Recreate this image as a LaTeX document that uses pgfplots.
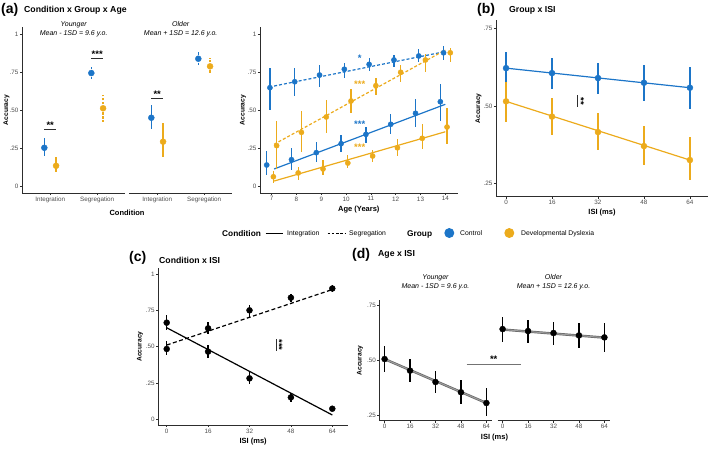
\documentclass[border=0pt]{standalone}
\usepackage{pgfplots}
\pgfplotsset{compat=1.18}
\usepackage{fontspec}
\setmainfont{Liberation Sans}

\definecolor{ctrl}{RGB}{28,117,200}
\definecolor{dys}{RGB}{236,171,28}
\definecolor{axgray}{RGB}{45,45,45}
\definecolor{ticktext}{RGB}{77,77,77}

\newcommand\tickfont{\fontsize{6.3}{7}\selectfont}
\newcommand\axlabfont{\bfseries\fontsize{7.5}{9}\selectfont}
\newcommand\ylabfont{\bfseries\fontsize{6.7}{8}\selectfont}
\newcommand\titlefont{\bfseries\fontsize{8.7}{10}\selectfont}
\newcommand\tagfont{\bfseries\fontsize{14}{16}\selectfont}
\newcommand\facetfont{\itshape\fontsize{7}{9}\selectfont}
\newcommand\starfont{\bfseries\fontsize{9.5}{10}\selectfont}
\newcommand\legfont{\fontsize{6.8}{8}\selectfont}

\pgfplotsset{
  gg/.style={
    scale only axis, clip=false,
    axis lines*=left,
    axis line style={axgray, line width=0.6pt, -},
    tick style={axgray, line width=0.5pt},
    tick align=outside, major tick length=2.2pt,
    ticklabel style={font=\tickfont, text=ticktext, inner sep=1.2pt},
    /pgf/number format/assume math mode=true,
    xlabel style={font=\axlabfont},
    ylabel style={font=\ylabfont},
  },
  % y label centred at a given fraction of the axis width left of the axis
  ylab/.style={ylabel={Accuracy},
    ylabel style={at={(axis description cs:#1,0.5)}, anchor=center}},
  acc/.style={ytick={0,0.25,0.5,0.75,1}, yticklabels={0,.25,.50,.75,1}},
  acc2/.style={ytick={0.25,0.5,0.75}, yticklabels={.25,.50,.75}},
  isi/.style={xtick={0,16,32,48,64}},
  pts/.style={only marks, mark=*, mark size=#1, mark options={solid, draw=none},
    error bars/y dir=both, error bars/y explicit, error bars/error mark=none},
  bar/.style={error bars/error bar style={line width=#1, solid}},
  dbar/.style={error bars/error bar style={line width=#1, dash pattern=on 2.4pt off 1.6pt}},
  fit/.style={line width=1.2pt, no marks},
  dfit/.style={line width=1.2pt, no marks, dash pattern=on 3pt off 2pt},
  table/eb/.style={x=x, y=y,
    y error plus expr=\thisrow{hi}-\thisrow{y},
    y error minus expr=\thisrow{y}-\thisrow{lo}},
}

\begin{document}
\begin{tikzpicture}
\path[use as bounding box] (0pt,0pt) rectangle (709pt,-448pt);

% ---------------- panel (a): condition x group x age ----------------
\node[anchor=west, inner sep=0] at (1pt,-10pt) {\tagfont (a)};
\node[anchor=west, inner sep=0] at (24pt,-10pt) {\titlefont Condition x Group x Age};

% younger facet
\begin{axis}[gg, acc, ylab=-0.15, at={(22pt,-193pt)}, anchor=south west,
  width=103.4pt, height=166pt,
  xmin=0.4, xmax=2.6, ymin=-0.0426, ymax=1.046,
  xtick={1,2}, xticklabels={Integration,Segregation}]
\addplot[ctrl, pts=3pt, bar=1.6pt] table[eb] {
x y hi lo
0.875 0.254 0.318 0.200
};
\addplot[dys, pts=3pt, bar=1.6pt] table[eb] {
x y hi lo
1.125 0.136 0.193 0.095
};
\addplot[ctrl, pts=3pt, dbar=1.6pt] table[eb] {
x y hi lo
1.875 0.744 0.790 0.698
};
\addplot[dys, pts=3pt, dbar=1.6pt] table[eb] {
x y hi lo
2.125 0.513 0.600 0.425
};
\draw[axgray, line width=0.6pt] (axis cs:0.875,0.377) -- (axis cs:1.125,0.377);
\node[font=\starfont, anchor=base, inner sep=0] at (axis cs:1,0.383) {**};
\draw[axgray, line width=0.6pt] (axis cs:1.875,0.842) -- (axis cs:2.125,0.842);
\node[font=\starfont, anchor=base, inner sep=0] at (axis cs:2,0.848) {***};
\end{axis}
\node[font=\facetfont, align=center] at (73.7pt,-29.5pt) {Younger\\Mean - 1SD = 9.6 y.o.};

% older facet
\begin{axis}[gg, at={(129pt,-193pt)}, anchor=south west,
  width=103.4pt, height=166pt,
  axis y line=none, ytick=\empty,
  xmin=0.4, xmax=2.6, ymin=-0.0426, ymax=1.046,
  xtick={1,2}, xticklabels={Integration,Segregation}]
\addplot[ctrl, pts=3pt, bar=1.6pt] table[eb] {
x y hi lo
0.875 0.451 0.534 0.377
};
\addplot[dys, pts=3pt, bar=1.6pt] table[eb] {
x y hi lo
1.125 0.294 0.415 0.195
};
\addplot[ctrl, pts=3pt, dbar=1.6pt] table[eb] {
x y hi lo
1.875 0.838 0.882 0.786
};
\addplot[dys, pts=3pt, dbar=1.6pt] table[eb] {
x y hi lo
2.125 0.788 0.843 0.744
};
\draw[axgray, line width=0.6pt] (axis cs:0.875,0.578) -- (axis cs:1.125,0.578);
\node[font=\starfont, anchor=base, inner sep=0] at (axis cs:1,0.584) {**};
\end{axis}
\node[font=\facetfont, align=center] at (180.7pt,-29.5pt) {Older\\Mean + 1SD = 12.6 y.o.};
\node[font=\axlabfont] at (127pt,-213pt) {Condition};

% age as a continuous predictor
\begin{axis}[gg, acc, ylab=-0.086, at={(260pt,-193pt)}, anchor=south west,
  width=197.7pt, height=166pt,
  xmin=6.53, xmax=14.5, ymin=-0.0426, ymax=1.046,
  xtick={7,8,...,14},
  xlabel={Age (Years)}]
% fitted lines
\addplot[ctrl, fit]  coordinates {(7.1,0.115) (14,0.539)};
\addplot[dys, fit]   coordinates {(7.1,0.036) (14,0.359)};
\addplot[ctrl, dfit] coordinates {(7.1,0.659) (14,0.885)};
\addplot[dys, dfit]  coordinates {(7.1,0.277) (14,0.895)};
% control, integration
\addplot[ctrl, pts=2.6pt, bar=1.3pt] table[eb] {
x y hi lo
6.80 0.141 0.233 0.075
7.80 0.176 0.250 0.108
8.80 0.222 0.294 0.163
9.80 0.281 0.338 0.228
10.80 0.342 0.392 0.283
11.80 0.408 0.473 0.342
12.80 0.480 0.574 0.392
13.80 0.556 0.670 0.431
};
% control, segregation
\addplot[ctrl, pts=2.6pt, bar=1.3pt] table[eb] {
x y hi lo
6.93 0.648 0.775 0.500
7.93 0.687 0.780 0.595
8.93 0.731 0.800 0.654
9.93 0.769 0.808 0.713
10.93 0.801 0.840 0.760
11.93 0.830 0.862 0.786
12.93 0.856 0.900 0.814
13.93 0.877 0.921 0.830
};
% dyslexia, integration
\addplot[dys, pts=2.6pt, bar=1.3pt] table[eb] {
x y hi lo
7.07 0.064 0.102 0.021
8.07 0.089 0.130 0.043
9.07 0.115 0.174 0.075
10.07 0.154 0.207 0.119
11.07 0.200 0.239 0.163
12.07 0.254 0.311 0.202
13.07 0.316 0.408 0.246
14.07 0.390 0.517 0.277
};
% dyslexia, segregation
\addplot[dys, pts=2.6pt, bar=1.3pt] table[eb] {
x y hi lo
7.20 0.268 0.430 0.115
8.20 0.355 0.495 0.228
9.20 0.456 0.567 0.349
10.20 0.561 0.639 0.480
11.20 0.661 0.710 0.600
12.20 0.749 0.800 0.687
13.20 0.830 0.867 0.753
14.20 0.877 0.906 0.818
};
\node[font=\starfont, text=ctrl, anchor=base, inner sep=0] at (axis cs:10.55,0.819) {*};
\node[font=\starfont, text=dys,  anchor=base, inner sep=0] at (axis cs:10.55,0.649) {***};
\node[font=\starfont, text=ctrl, anchor=base, inner sep=0] at (axis cs:10.55,0.390) {***};
\node[font=\starfont, text=dys,  anchor=base, inner sep=0] at (axis cs:10.55,0.233) {***};
\end{axis}

% ---------------- panel (b): group x ISI ----------------
\node[anchor=west, inner sep=0] at (477pt,-10pt) {\tagfont (b)};
\node[anchor=west, inner sep=0] at (509pt,-10pt) {\titlefont Group x ISI};
\begin{axis}[gg, acc2, isi, ylab=-0.083, at={(496pt,-196.7pt)}, anchor=south west,
  width=212pt, height=176.7pt,
  xmin=-3.5, xmax=70.3, ymin=0.208, ymax=0.777,
  xlabel={ISI (ms)}]
\addplot[ctrl, fit] coordinates {(0,0.622) (64,0.559)};
\addplot[dys, fit]  coordinates {(0,0.515) (64,0.326)};
\addplot[ctrl, pts=3pt, bar=1.5pt] table[eb] {
x y hi lo
0 0.622 0.675 0.570
16 0.606 0.656 0.554
32 0.590 0.640 0.538
48 0.575 0.631 0.517
64 0.559 0.626 0.490
};
\addplot[dys, pts=3pt, bar=1.5pt] table[eb] {
x y hi lo
0 0.515 0.578 0.450
16 0.466 0.525 0.407
32 0.416 0.476 0.358
48 0.371 0.436 0.311
64 0.326 0.400 0.262
};
\draw[axgray, line width=0.6pt] (axis cs:24.9,0.497) -- (axis cs:24.9,0.535);
\node[font=\starfont, rotate=-90, anchor=base, inner sep=0] at (axis cs:24.9,0.516) {**};
\end{axis}

% ---------------- legend ----------------
\node[anchor=base west, inner sep=0, font=\bfseries\fontsize{8.3}{10}\selectfont] at (222pt,-236pt) {Condition};
\draw[black, line width=1pt] (265.5pt,-233pt) -- (283pt,-233pt);
\node[anchor=base west, inner sep=0, font=\legfont] at (287pt,-235.6pt) {Integration};
\draw[black, line width=1pt, dash pattern=on 2.5pt off 1.8pt] (327.5pt,-233pt) -- (346pt,-233pt);
\node[anchor=base west, inner sep=0, font=\legfont] at (349pt,-235.6pt) {Segregation};
\node[anchor=base west, inner sep=0, font=\bfseries\fontsize{8.3}{10}\selectfont] at (407pt,-236pt) {Group};
\fill[ctrl] (449.3pt,-233pt) circle (5pt);
\node[anchor=base west, inner sep=0, font=\legfont] at (460pt,-235.6pt) {Control};
\fill[dys] (509.3pt,-233pt) circle (5pt);
\node[anchor=base west, inner sep=0, font=\legfont] at (521pt,-235.6pt) {Developmental Dyslexia};

% ---------------- panel (c): condition x ISI ----------------
\node[anchor=west, inner sep=0] at (129pt,-257.5pt) {\tagfont (c)};
\node[anchor=west, inner sep=0] at (159pt,-260pt) {\titlefont Condition x ISI};
\begin{axis}[gg, acc, isi, ylab=-0.097, at={(158.3pt,-425pt)}, anchor=south west,
  width=189.7pt, height=157pt,
  xmin=-3.25, xmax=70.07, ymin=-0.039, ymax=1.041,
  xlabel={ISI (ms)}]
\addplot[black, fit]  coordinates {(0,0.630) (64,0.030)};
\addplot[black, line width=1.2pt, no marks, dash pattern=on 4pt off 2.5pt] coordinates {(0,0.511) (64,0.893)};
\addplot[black, pts=3pt, bar=1.5pt] table[eb] {
x y hi lo
0 0.665 0.718 0.615
16 0.466 0.510 0.420
32 0.282 0.328 0.243
48 0.151 0.179 0.122
64 0.073 0.090 0.060
};
\addplot[black, pts=3pt, bar=1.5pt] table[eb] {
x y hi lo
0 0.484 0.540 0.440
16 0.626 0.670 0.585
32 0.750 0.787 0.706
48 0.837 0.860 0.810
64 0.900 0.925 0.875
};
\draw[axgray, line width=0.6pt] (axis cs:42.2,0.471) -- (axis cs:42.2,0.553);
\node[font=\starfont, rotate=-90, anchor=base, inner sep=0] at (axis cs:42.2,0.512) {***};
\end{axis}

% ---------------- panel (d): age x ISI ----------------
\node[anchor=west, inner sep=0] at (352pt,-255pt) {\tagfont (d)};
\node[anchor=west, inner sep=0] at (378pt,-254.5pt) {\titlefont Age x ISI};
\begin{axis}[gg, acc2, isi, ylab=-0.174, at={(379.5pt,-420.7pt)}, anchor=south west,
  width=112pt, height=120.7pt,
  xmin=-3.2, xmax=67.2, ymin=0.224, ymax=0.776]
\addplot[black!60, line width=2.4pt, no marks] coordinates {(0,0.506) (64,0.305)};
\addplot[black!38, line width=1pt, no marks] coordinates {(0,0.506) (64,0.305)};
\addplot[black, pts=3pt, bar=1.5pt] table[eb] {
x y hi lo
0 0.506 0.567 0.445
16 0.453 0.508 0.400
32 0.401 0.453 0.349
48 0.354 0.410 0.300
64 0.305 0.372 0.247
};
\draw[black!55, line width=0.8pt] (axis cs:51.6,0.483) -- (axis cs:85.7,0.483);
\node[font=\starfont, anchor=base, inner sep=0] at (axis cs:68.6,0.488) {**};
\end{axis}
\node[font=\facetfont, align=center] at (435.5pt,-282.3pt) {Younger\\Mean - 1SD = 9.6 y.o.};

\begin{axis}[gg, isi, at={(497.5pt,-420.7pt)}, anchor=south west,
  width=112pt, height=120.7pt,
  axis y line=none, ytick=\empty,
  xmin=-3.2, xmax=67.2, ymin=0.224, ymax=0.776]
\addplot[black!60, line width=2.4pt, no marks] coordinates {(0,0.641) (64,0.604)};
\addplot[black!38, line width=1pt, no marks] coordinates {(0,0.641) (64,0.604)};
\addplot[black, pts=3pt, bar=1.5pt] table[eb] {
x y hi lo
0 0.643 0.697 0.582
16 0.634 0.684 0.579
32 0.625 0.675 0.570
48 0.614 0.672 0.555
64 0.605 0.672 0.537
};
\end{axis}
\node[font=\facetfont, align=center] at (553.5pt,-282.3pt) {Older\\Mean + 1SD = 12.6 y.o.};
\node[font=\axlabfont] at (494.5pt,-438pt) {ISI (ms)};

\end{tikzpicture}
\end{document}
